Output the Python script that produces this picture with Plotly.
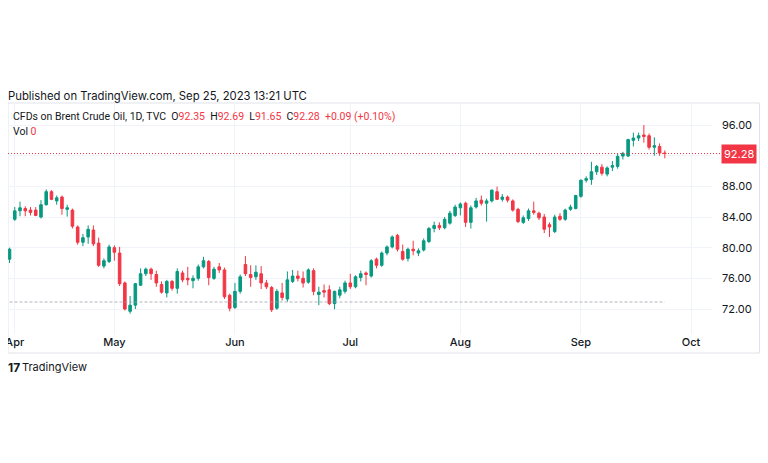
import plotly.graph_objects as go

# ---- trading days (month -> day numbers) ----
month_days = {
    "2023-03": [31],
    "2023-04": [3, 4, 5, 6, 10, 11, 12, 13, 14, 17, 18, 19, 20, 21, 24, 25, 26, 27, 28],
    "2023-05": [1, 2, 3, 4, 5, 8, 9, 10, 11, 12, 15, 16, 17, 18, 19, 22, 23, 24, 25, 26, 29, 30, 31],
    "2023-06": [1, 2, 5, 6, 7, 8, 9, 12, 13, 14, 15, 16, 19, 20, 21, 22, 23, 26, 27, 28, 29, 30],
    "2023-07": [3, 4, 5, 6, 7, 10, 11, 12, 13, 14, 17, 18, 19, 20, 21, 24, 25, 26, 27, 28, 31],
    "2023-08": [1, 2, 3, 4, 7, 8, 9, 10, 11, 14, 15, 16, 17, 18, 21, 22, 23, 24, 25, 28, 29, 30, 31],
    "2023-09": [1, 4, 5, 6, 7, 8, 11, 12, 13, 14, 15, 18, 19, 20, 21, 22, 25],
}
dates = [f"{m}-{d:02d}" for m, ds in month_days.items() for d in ds]

opens = [
    78.5,
    83.7, 84.8, 85.1, 84.9, 84.9, 84.0, 85.6, 87.3, 86.1, 86.6, 85.0, 84.9, 82.7, 80.7, 81.4, 82.3, 80.6, 77.6, 78.2,
    80.0, 79.3, 75.4, 71.7, 72.5, 75.1, 76.6, 77.2, 76.5, 75.2, 74.1, 75.6, 74.7, 76.7, 76.0, 75.7, 76.0, 77.5, 78.2, 76.0, 77.5, 77.1, 73.8,
    72.2, 74.3, 77.8, 76.5, 76.2, 76.6, 75.4, 74.8, 72.1, 74.1, 73.3, 75.6, 76.3, 76.0, 75.5, 77.0, 73.9, 74.4, 74.5, 72.7, 73.8, 74.3,
    75.4, 74.9, 76.1, 76.7, 76.3, 78.5, 77.7, 79.3, 80.1, 81.6, 79.5, 78.6, 79.8, 79.3, 79.7, 80.8, 82.5, 82.9, 82.6, 83.2, 84.2,
    85.2, 85.8, 83.3, 85.3, 86.2, 85.8, 86.1, 87.3, 86.3, 86.6, 86.1, 85.0, 83.3, 83.8, 84.8, 84.5, 84.0, 83.0, 82.1, 84.1, 83.7, 85.0, 85.1,
    86.7, 88.8, 88.9, 89.9, 90.5, 89.6, 90.5, 90.6, 91.95, 91.95, 94.0, 94.3, 94.7, 94.6, 93.1, 93.2, 92.35,
]
highs = [
    80.0,
    85.3, 86.0, 85.4, 85.3, 85.3, 86.2, 87.6, 87.5, 86.8, 86.8, 85.6, 85.1, 82.9, 81.8, 82.9, 82.9, 81.3, 78.6, 80.4,
    80.3, 80.1, 75.6, 73.7, 75.4, 77.3, 77.4, 77.4, 77.0, 75.6, 75.8, 75.8, 77.3, 77.0, 77.5, 76.4, 77.8, 78.8, 78.4, 77.5, 78.0, 77.4, 74.0,
    75.4, 76.5, 78.9, 77.7, 77.7, 77.6, 75.8, 75.0, 74.6, 75.4, 76.9, 77.1, 77.0, 76.9, 77.3, 77.3, 74.9, 75.2, 75.1, 74.4, 74.9, 75.7,
    76.6, 76.4, 77.0, 76.9, 78.5, 78.7, 79.5, 80.3, 81.6, 81.8, 80.4, 80.0, 80.9, 79.9, 81.2, 82.7, 83.4, 83.3, 84.0, 84.8, 85.6,
    85.9, 86.0, 85.5, 86.5, 86.8, 86.4, 87.6, 87.96, 87.0, 86.8, 86.3, 85.2, 84.2, 85.1, 86.0, 84.7, 84.4, 83.3, 84.3, 84.5, 85.1, 85.6, 86.9,
    88.9, 89.3, 91.2, 90.8, 90.9, 90.6, 91.3, 92.3, 92.5, 94.2, 95.0, 95.0, 96.0, 94.9, 94.4, 93.6, 92.69,
]
lows = [
    78.0,
    83.5, 84.1, 84.1, 84.2, 84.1, 83.8, 85.5, 86.2, 85.6, 84.3, 84.05, 82.5, 80.4, 80.2, 80.5, 80.2, 77.5, 77.3, 78.0,
    78.3, 75.0, 71.8, 71.4, 72.0, 75.0, 76.3, 75.8, 74.9, 74.0, 73.5, 74.4, 74.0, 75.5, 75.1, 74.7, 75.7, 77.3, 75.1, 75.8, 76.7, 73.3, 71.7,
    72.0, 74.0, 76.3, 74.9, 75.8, 74.6, 74.6, 71.6, 71.9, 73.1, 72.95, 75.4, 75.6, 74.8, 75.3, 73.8, 72.5, 73.5, 72.5, 71.96, 73.4, 74.0,
    74.6, 74.7, 75.6, 75.1, 76.1, 77.3, 77.5, 79.0, 79.9, 79.5, 78.3, 78.2, 79.0, 78.9, 79.5, 80.6, 82.0, 82.3, 82.4, 83.0, 84.0,
    84.2, 82.7, 82.5, 85.1, 85.5, 83.4, 85.9, 86.2, 86.0, 85.9, 84.7, 83.2, 83.1, 83.5, 84.3, 83.6, 81.9, 81.4, 81.9, 83.5, 83.5, 84.8, 85.0,
    86.5, 88.5, 88.2, 89.5, 89.4, 89.3, 90.0, 90.3, 91.5, 91.8, 93.2, 93.9, 93.7, 92.8, 92.0, 92.0, 91.65,
]
closes = [
    79.8,
    84.8, 85.2, 84.8, 84.6, 84.2, 85.6, 87.3, 86.3, 86.5, 85.1, 85.2, 82.8, 80.7, 81.3, 82.4, 80.5, 77.7, 78.3, 80.1,
    79.4, 75.3, 72.0, 72.5, 75.3, 76.6, 77.2, 76.6, 75.4, 74.2, 75.6, 74.7, 76.9, 75.8, 75.8, 76.0, 77.5, 78.3, 76.1, 77.2, 77.1, 73.6, 72.1,
    74.3, 76.2, 76.6, 76.1, 76.8, 75.4, 74.9, 71.9, 74.3, 73.5, 75.8, 76.3, 76.0, 75.4, 77.1, 74.3, 74.2, 74.2, 72.7, 74.3, 74.5, 75.4,
    74.9, 76.2, 76.6, 76.5, 78.3, 77.7, 79.3, 80.1, 81.4, 79.8, 78.5, 79.8, 79.6, 79.6, 80.9, 82.5, 82.9, 82.6, 83.7, 84.5, 85.3,
    85.7, 83.3, 85.2, 86.1, 85.8, 86.1, 87.5, 86.3, 86.6, 86.2, 84.9, 83.4, 83.9, 84.8, 84.6, 83.9, 82.4, 82.7, 84.0, 83.7, 84.9, 85.3, 86.8,
    88.8, 89.0, 89.9, 90.6, 89.7, 90.4, 90.7, 91.9, 92.3, 94.1, 94.3, 94.6, 94.5, 93.1, 93.3, 92.35, 92.28,
]

month_ticks = ["2023-04-03", "2023-05-01", "2023-06-01", "2023-07-03", "2023-08-01", "2023-09-01", "2023-10-02"]
month_labels = ["Apr", "May", "Jun", "Jul", "Aug", "Sep", "Oct"]
price_ticks = [72, 76, 80, 84, 88, 92, 96]
price_labels = ["72.00", "76.00", "80.00", "84.00", "88.00", "", "96.00"]

UP = "#089981"
DOWN = "#F23645"
TXT = "#131722"
FONT = "Inter, Roboto, sans-serif"
FONT2 = "Roboto, Inter, sans-serif"

fig = go.Figure(go.Candlestick(
    x=dates, open=opens, high=highs, low=lows, close=closes,
    increasing=dict(line=dict(color=UP, width=1), fillcolor=UP),
    decreasing=dict(line=dict(color=DOWN, width=1), fillcolor=DOWN),
    whiskerwidth=0, showlegend=False, hoverinfo="skip",
))

OFF = 8  # page body margin
W, H = 768 - OFF, 463 - OFF
L, R, T, B = 7 - OFF, 712 - OFF, 103 - OFF, 334 - OFF
L = max(L, 0)
pw, ph = R - L, B - T

def px_x(p):  # page pixel -> paper x
    return (p - OFF - L) / pw

def px_y(p):  # page pixel -> paper y
    return (B - (p - OFF)) / ph

fig.update_layout(
    width=W, height=H,
    margin=dict(l=L, r=W - R, t=T, b=H - B, pad=0, autoexpand=False),
    paper_bgcolor="white", plot_bgcolor="white",
    font=dict(family=FONT, size=11, color=TXT),
    xaxis=dict(
        type="date", automargin=False,
        rangebreaks=[dict(bounds=["sat", "mon"]), dict(values=["2023-04-07"])],
        range=["2023-03-30 17:00", "2023-10-06 00:00"],
        rangeslider=dict(visible=False),
        tickvals=month_ticks, ticktext=month_labels,
        ticklabeloverflow="allow",
        showgrid=True, gridcolor="#f0f3fa", gridwidth=1,
        zeroline=False, showline=False, ticks="",
        tickfont=dict(size=11, color=TXT, family=FONT, weight=500),
    ),
    yaxis=dict(
        side="right", range=[68.74, 98.87], automargin=False,
        tickvals=price_ticks, ticktext=price_labels,
        showgrid=True, gridcolor="#f0f3fa", gridwidth=1,
        zeroline=False, showline=False, ticks="",
        ticklabelstandoff=9,
        tickfont=dict(size=11, color=TXT, family=FONT),
    ),
)

shapes = [
    # frame
    dict(type="rect", xref="paper", yref="paper", x0=px_x(8), x1=px_x(759.5), y0=px_y(353), y1=px_y(103),
         line=dict(color="#e0e3eb", width=1), layer="below"),
    # last price line
    dict(type="line", xref="paper", yref="y", x0=0, x1=px_x(720), y0=closes[-1], y1=closes[-1],
         line=dict(color=DOWN, width=1, dash="1px,2px")),
    # volume zero line
    dict(type="line", xref="x", yref="paper", x0=dates[0], x1=dates[-1], y0=px_y(302), y1=px_y(302),
         line=dict(color="rgba(160,163,172,0.8)", width=1, dash="3px,2px")),
]
fig.update_layout(shapes=shapes)

red = lambda s: f"<span style='color:{DOWN}'>{s}</span>"
sp = "\u00a0\u00a0"
legend_line = ("CFDs on Brent Crude Oil, 1D, TVC" + sp
               + "O" + red(f"{opens[-1]:.2f}") + sp
               + "H" + red(f"{highs[-1]:.2f}") + sp
               + "L" + red(f"{lows[-1]:.2f}") + sp
               + "C" + red(f"{closes[-1]:.2f}") + sp
               + red("+0.09 (+0.10%)"))
ann = [
    dict(text="Published on TradingView.com, Sep 25, 2023 13:21 UTC", x=6, y=96, size=11.3, font=FONT),
    dict(text=legend_line, x=11, y=117, size=10.5, font=FONT2),
    dict(text="Vol " + red("0"), x=11, y=131, size=10.5, font=FONT2),
    dict(text="<b>17</b>", x=6, y=367, size=12, font=FONT),
    dict(text="TradingView", x=20, y=367, size=11, font=FONT),
]
annotations = []
for a in ann:
    annotations.append(dict(
        text=a["text"], xref="paper", yref="paper", x=px_x(a["x"]), y=px_y(a["y"]),
        xanchor="left", yanchor="middle", showarrow=False,
        font=dict(size=a["size"], color=TXT, family=a["font"]),
    ))
annotations.append(dict(
    text=f"{closes[-1]:.2f}", xref="paper", yref="y", x=px_x(739), y=closes[-1],
    xanchor="center", yanchor="middle", showarrow=False,
    font=dict(size=11, color="white", family=FONT),
    bgcolor=DOWN, borderpad=2,
))
fig.update_layout(annotations=annotations)

fig.write_html("out.html")
